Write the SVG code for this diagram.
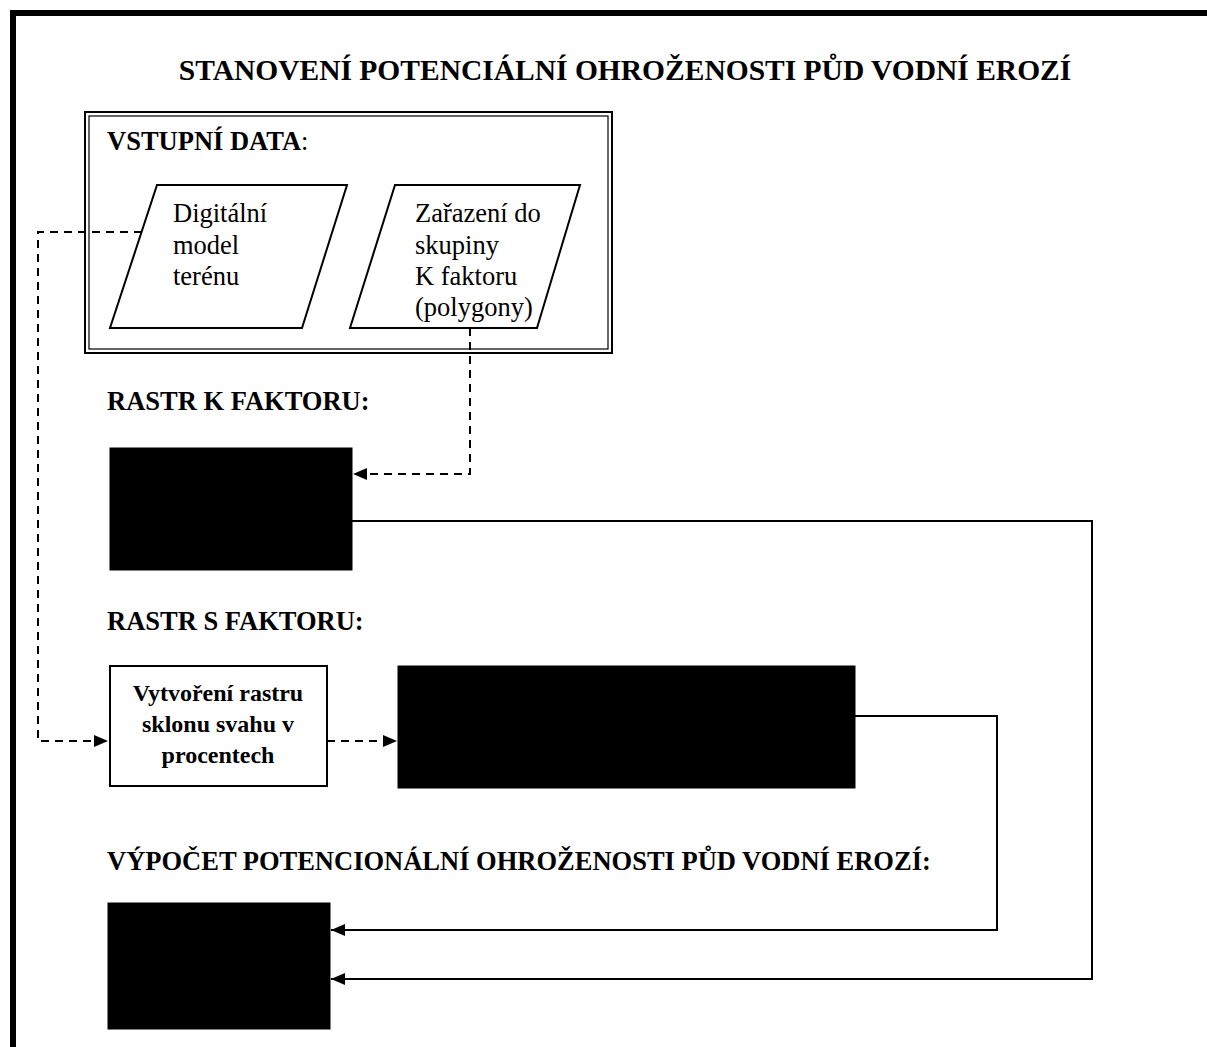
<svg xmlns="http://www.w3.org/2000/svg" width="1207" height="1047" viewBox="0 0 1207 1047">
<style>
text{font-family:'Liberation Serif',serif;fill:#000}
.head{font-size:29.5px;font-weight:bold}
.lab{font-size:26.5px;font-weight:bold}
.par{font-size:26.5px}
.box{font-size:24px;font-weight:bold}
.dash{fill:none;stroke:#000;stroke-width:2;stroke-dasharray:8,6}
.solid{fill:none;stroke:#000;stroke-width:2}
.blk{fill:#000;stroke:#000}
.wb{fill:#fff;stroke:#000;stroke-width:2}
</style>
<defs>
<marker id="ah" viewBox="0 0 14 12" refX="14" refY="6" markerWidth="14" markerHeight="12" markerUnits="userSpaceOnUse" orient="auto">
<path d="M0,0 L14,6 L0,12 Z" fill="#000"/>
</marker>
</defs>
<rect x="0" y="0" width="1207" height="1047" fill="#fff"/>
<rect x="13" y="13" width="1250" height="1100" fill="none" stroke="#000" stroke-width="6"/>
<text class="head" x="625" y="80" text-anchor="middle">STANOVENÍ POTENCIÁLNÍ OHROŽENOSTI PŮD VODNÍ EROZÍ</text>

<g id="vstupni-data">
<rect x="85" y="112" width="527" height="241" fill="#fff" stroke="#000" stroke-width="2"/>
<rect x="89" y="116" width="519" height="233" fill="none" stroke="#000" stroke-width="1.2"/>
<text x="107" y="150" font-size="26.5px"><tspan font-weight="bold">VSTUPNÍ DATA</tspan>:</text>
</g>

<g id="dmt">
<polygon points="157,185 347,185 302,328 110,328" class="wb"/>
<text class="par" x="173" y="222">Digitální</text>
<text class="par" x="173" y="254">model</text>
<text class="par" x="173" y="285">terénu</text>
</g>

<g id="k-skupiny">
<polygon points="395,185 580,185 537,328 350,328" class="wb"/>
<text class="par" x="415" y="222">Zařazení do</text>
<text class="par" x="415" y="254">skupiny</text>
<text class="par" x="415" y="285">K faktoru</text>
<text class="par" x="415" y="316">(polygony)</text>
</g>

<text class="lab" x="107" y="410">RASTR K FAKTORU:</text>
<g id="rastr-k"><rect x="110" y="448" width="242" height="122" class="blk"/></g>

<text class="lab" x="107" y="630">RASTR S FAKTORU:</text>
<g id="sklon">
<rect x="110" y="666" width="217" height="120" class="wb"/>
<text class="box" x="218" y="701" text-anchor="middle">Vytvoření rastru</text>
<text class="box" x="218" y="732" text-anchor="middle">sklonu svahu v</text>
<text class="box" x="218" y="763" text-anchor="middle">procentech</text>
</g>
<g id="rastr-s"><rect x="398" y="666" width="457" height="122" class="blk"/></g>

<text class="lab" x="107" y="870">VÝPOČET POTENCIONÁLNÍ OHROŽENOSTI PŮD VODNÍ EROZÍ:</text>
<g id="vysledek"><rect x="108" y="903" width="222" height="126" class="blk"/></g>

<g id="connectors">
<path class="dash" d="M142,232 H38 V741 H108" marker-end="url(#ah)"/>
<path class="dash" d="M470,328 V474 H353" marker-end="url(#ah)"/>
<path class="dash" d="M327,741 H397" marker-end="url(#ah)"/>
<path class="solid" d="M352,521 H1092 V979 H331" marker-end="url(#ah)"/>
<path class="solid" d="M855,716 H997 V930 H331" marker-end="url(#ah)"/>
</g>
</svg>
